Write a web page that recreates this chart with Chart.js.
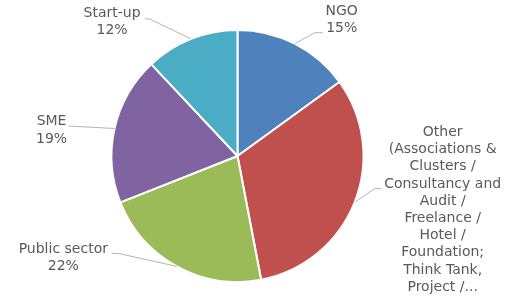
<!DOCTYPE html>
<html>
<head>
<meta charset="utf-8">
<script src="https://cdn.jsdelivr.net/npm/chart.js@4/dist/chart.umd.min.js"></script>
<style>
  html, body { margin: 0; padding: 0; background: #ffffff; }
  #wrap { width: 505px; height: 296px; position: relative; }
</style>
</head>
<body>
<div id="wrap"><canvas id="c" width="505" height="296"></canvas></div>
<script>
// ---- data ----
const categories = [
  ['NGO'],
  ['Other', '(Associations &', 'Clusters /', 'Consultancy and', 'Audit /', 'Freelance /', 'Hotel /', 'Foundation;', 'Think Tank,', 'Project /...'],
  ['Public sector'],
  ['SME'],
  ['Start-up']
];
const shares = [15, 32, 22, 19, 12];
const showShare = [true, false, true, true, true];
const sliceColors = ['#4F81BD', '#C0504D', '#9BBB59', '#8064A2', '#4BACC6'];

// label placement relative to each slice's outer mid-point
const labelLayout = [
  { text: [47, -32.5], leader: [[20, -11], [28, -11]] },
  { text: [88, -70], leader: [[20, -13.7], [27, -13.7]] },
  { text: [-113.5, -17.2], leader: [[-57, -12.7], [-65, -13]] },
  { text: [-63, -6.8], leader: [[-46, -2.5]] },
  { text: [-79, -25.5], leader: [[-42, -20], [-46, -20]] }
];

const sliceLabels = {
  id: 'sliceLabels',
  afterDatasetsDraw(chart) {
    const ctx = chart.ctx;
    const meta = chart.getDatasetMeta(0);
    const total = shares.reduce((a, b) => a + b, 0);
    ctx.save();
    meta.data.forEach((arc, i) => {
      const p = arc.getProps(['x', 'y', 'startAngle', 'endAngle', 'outerRadius'], true);
      const mid = (p.startAngle + p.endAngle) / 2;
      const ax = p.x + Math.cos(mid) * p.outerRadius;
      const ay = p.y + Math.sin(mid) * p.outerRadius;
      const L = labelLayout[i];
      ctx.beginPath();
      ctx.moveTo(ax, ay);
      L.leader.forEach(([dx, dy]) => ctx.lineTo(ax + dx, ay + dy));
      ctx.strokeStyle = '#b3b3b3';
      ctx.lineWidth = 1;
      ctx.stroke();

      const lines = categories[i].slice();
      if (showShare[i]) lines.push(Math.round(shares[i] / total * 100) + '%');
      ctx.font = '14px "DejaVu Sans"';
      ctx.fillStyle = '#595959';
      ctx.textAlign = 'center';
      ctx.textBaseline = 'middle';
      const tx = ax + L.text[0];
      const ty = ay + L.text[1];
      lines.forEach((ln, k) => ctx.fillText(ln, tx, ty + k * 17.2));
    });
    ctx.restore();
  }
};

new Chart(document.getElementById('c'), {
  type: 'pie',
  data: {
    labels: categories,
    datasets: [{
      data: shares,
      backgroundColor: sliceColors,
      borderColor: '#ffffff',
      borderWidth: 2,
      hoverOffset: 0
    }]
  },
  options: {
    responsive: false,
    animation: false,
    events: [],
    layout: { padding: { left: 110.5, right: 140.5, top: 29, bottom: 13 } },
    plugins: {
      legend: { display: false },
      tooltip: { enabled: false }
    }
  },
  plugins: [sliceLabels]
});
</script>
</body>
</html>
